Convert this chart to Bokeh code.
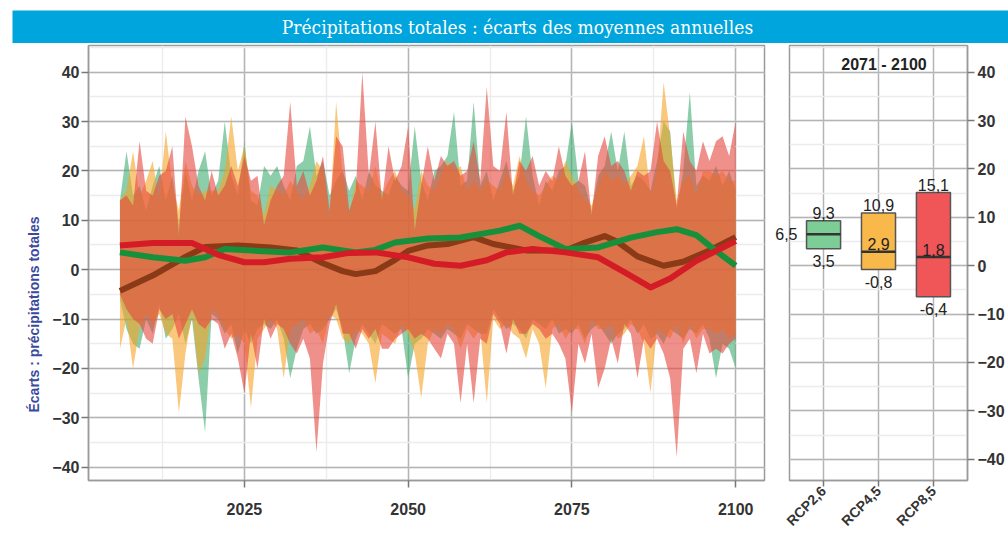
from math import pi
from bokeh.plotting import figure
from bokeh.models import SingleIntervalTicker, FixedTicker, Spacer, Title, LinearAxis
from bokeh.layouts import column, row
from bokeh.embed import file_html
from bokeh.resources import INLINE
from bokeh.core.properties import value

# ---------------- data ----------------
years = list(range(2006, 2101))

rcp26_upper = [14, 24, 15, 17, 12, 17, 21, 14, 19, 9,
               20, 14, 20, 24, 15, 18, 30, 19, 15, 26,
               14, 13, 21, 19, 21, 17, 14, 21, 22, 29,
               19, 22, 15, 18, 20, 16, 19, 14, 20, 17,
               16, 15, 19, 17, 16, 29, 18, 14, 20, 21,
               23, 32, 17, 18, 34, 17, 20, 14, 18, 22,
               16, 19, 31, 19, 13, 18, 16, 20, 21, 30,
               18, 17, 12, 19, 21, 28, 20, 28, 17, 19,
               18, 16, 22, 30, 28, 12, 20, 36, 17, 19,
               18, 21, 17, 20, 16]
rcp26_lower = [-6, -12, -15, -16, -10, -13, -7, -14, -12, -9,
               -15, -10, -22, -33, -9, -10, -13, -11, -17, -12,
               -15, -12, -11, -12, -10, -14, -22, -16, -12, -11,
               -13, -12, -10, -8, -12, -21, -14, -11, -13, -15,
               -11, -12, -13, -12, -22, -15, -14, -12, -13, -14,
               -12, -13, -14, -11, -12, -13, -13, -8, -10, -12,
               -11, -12, -14, -10, -11, -12, -10, -13, -12, -13,
               -11, -14, -12, -11, -13, -15, -13, -12, -10, -13,
               -11, -14, -13, -15, -12, -13, -14, -12, -13, -11,
               -14, -22, -15, -16, -20]
rcp45_upper = [14, 16, 24, 15, 18, 22, 14, 28, 17, 12,
               22, 17, 15, 16, 16, 16, 20, 31, 20, 25,
               16, 15, 11, 17, 16, 15, 18, 16, 14, 17,
               22, 20, 10, 34, 19, 11, 18, 17, 16, 21,
               15, 18, 20, 16, 15, 12, 20, 17, 16, 19,
               22, 20, 21, 16, 18, 16, 18, 17, 16, 20,
               17, 23, 18, 16, 15, 17, 19, 18, 22, 19,
               16, 14, 13, 17, 20, 18, 19, 17, 19, 21,
               27, 15, 20, 38, 27, 14, 18, 19, 15, 20,
               20, 19, 20, 18, 18]
rcp45_lower = [-16, -10, -20, -12, -9, -11, -9, -13, -14, -29,
               -17, -9, -21, -18, -8, -9, -12, -14, -13, -15,
               -28, -14, -12, -10, -12, -22, -12, -11, -10, -13,
               -12, -15, -9, -10, -14, -15, -12, -13, -15, -23,
               -13, -14, -15, -11, -13, -17, -26, -15, -12, -13,
               -11, -12, -16, -12, -14, -12, -27, -10, -12, -11,
               -13, -14, -18, -12, -15, -24, -12, -11, -14, -12,
               -12, -15, -10, -12, -12, -11, -14, -13, -11, -12,
               -15, -25, -12, -13, -14, -11, -15, -11, -14, -12,
               -12, -13, -12, -14, -13]
rcp85_upper = [14, 15, 13, 26, 16, 15, 19, 20, 25, 7,
               31, 25, 17, 14, 20, 15, 17, 21, 17, 23,
               18, 19, 9, 14, 17, 19, 34, 17, 20, 15,
               18, 23, 12, 27, 25, 12, 16, 40, 19, 30,
               14, 25, 18, 21, 29, 8, 17, 25, 18, 23,
               21, 22, 19, 20, 26, 18, 37, 21, 20, 32,
               15, 22, 20, 23, 17, 20, 18, 25, 19, 17,
               18, 24, 11, 23, 27, 21, 22, 20, 16, 20,
               19, 20, 30, 22, 20, 13, 28, 22, 20, 26,
               22, 26, 27, 23, 30]
rcp85_lower = [-5, -8, -10, -11, -14, -15, -8, -10, -9, -14,
               -11, -8, -11, -12, -10, -11, -16, -13, -18, -25,
               -13, -20, -10, -14, -11, -12, -15, -17, -14, -18,
               -37, -19, -11, -7, -13, -13, -16, -12, -14, -12,
               -16, -16, -14, -13, -12, -14, -13, -14, -16, -18,
               -13, -15, -27, -15, -27, -14, -15, -9, -11, -17,
               -10, -13, -13, -11, -12, -14, -13, -15, -18, -29,
               -15, -19, -13, -24, -20, -14, -19, -11, -13, -22,
               -14, -16, -14, -17, -22, -38, -16, -14, -21, -13,
               -17, -16, -17, -15, -14]

# smoothed means
rcp26_mean_years = [2006, 2011, 2016, 2019, 2022, 2027, 2032, 2037, 2042, 2045, 2048,
                    2053, 2058, 2064, 2067, 2070, 2074, 2079, 2084, 2088, 2091, 2094, 2097, 2100]
rcp26_mean = [3.5, 2.5, 1.8, 2.5, 4.2, 3.8, 3.5, 4.5, 3.5, 4.0, 5.5,
              6.3, 6.5, 7.9, 8.9, 6.8, 4.2, 4.5, 6.5, 7.6, 8.2, 7.0, 3.8, 0.8]
rcp45_mean_years = [2006, 2011, 2016, 2019, 2024, 2029, 2033, 2037, 2040, 2042, 2045, 2048,
                    2050, 2053, 2056, 2060, 2063, 2068, 2074, 2077, 2080, 2082, 2085, 2089,
                    2092, 2096, 2100]
rcp45_mean = [-4.3, -1.2, 2.6, 4.6, 4.9, 4.5, 3.9, 1.3, -0.3, -0.9, -0.3, 2.0,
              3.8, 4.9, 5.2, 6.6, 5.2, 3.9, 3.9, 5.5, 6.8, 5.6, 2.7, 0.8,
              1.6, 3.9, 6.6]
rcp85_mean_years = [2006, 2011, 2017, 2021, 2025, 2028, 2032, 2037, 2041, 2045, 2050,
                    2054, 2058, 2062, 2065, 2069, 2074, 2079, 2083, 2087, 2090, 2094, 2100]
rcp85_mean = [4.9, 5.4, 5.4, 3.0, 1.5, 1.5, 2.2, 2.5, 3.4, 3.5, 2.5,
              1.2, 0.8, 1.9, 3.5, 4.2, 3.5, 2.5, -0.5, -3.6, -1.8, 1.8, 5.8]

# 2071-2100 box summary
scenarios = ["RCP2,6", "RCP4,5", "RCP8,5"]
box_low = [3.5, -0.8, -6.4]
box_median = [6.5, 2.9, 1.8]
box_high = [9.3, 10.9, 15.1]

title_text = "Précipitations totales : écarts des moyennes annuelles"
ylabel_text = "Écarts : précipitations totales"
period_text = "2071 - 2100"

# ---------------- styles ----------------
SANS = "Liberation Sans"
TICK_COL = "#333333"
GRID_MAJ = "#b4b4b4"
GRID_MIN = "#ececec"
FRAME_COL = "#9a9a9a"

fill_cols = ["#3fac71", "#f7a326", "#e6463c"]
box_cols = ["#7dcd96", "#f9b84a", "#f05558"]
line_cols = {"g": "#17903c", "b": "#8a3a16", "r": "#d41c26"}


def fmt(v):
    return ("%.1f" % v).replace(".", ",")


def style_axes(p):
    for ax in p.axis:
        ax.axis_line_color = FRAME_COL
        ax.axis_line_width = 1.5
        ax.major_tick_line_color = "#777777"
        ax.major_tick_line_width = 1.5
        ax.major_tick_out = 7
        ax.major_tick_in = 0
        ax.minor_tick_line_color = None
        ax.major_label_text_font = SANS
        ax.major_label_text_font_style = "bold"
        ax.major_label_text_font_size = "16px"
        ax.major_label_text_color = TICK_COL
    p.grid.grid_line_color = GRID_MAJ
    p.grid.grid_line_width = 1.5
    p.grid.minor_grid_line_color = GRID_MIN
    p.grid.minor_grid_line_width = 1.5
    p.outline_line_color = FRAME_COL
    p.outline_line_width = 1.5


# ---------------- title bar ----------------
tf = figure(width=996, height=33, x_range=(0, 996), y_range=(0, 33),
            toolbar_location=None, output_backend="svg", min_border=0,
            x_axis_type=None, y_axis_type=None,
            background_fill_color="#00a5dd", border_fill_color="#00a5dd",
            outline_line_color=None)
tf.grid.visible = False
tf.text(x=[505], y=[16.5], text=[title_text], text_align="center",
        text_baseline="middle", text_color="white",
        text_font=value("DejaVu Serif Condensed"), text_font_size="19px")

# ---------------- main panel ----------------
p = figure(width=772, height=495, x_range=(2001.2, 2104.4), y_range=(-42.7, 45.4),
           toolbar_location=None, output_backend="svg",
           min_border_left=88, min_border_right=8, min_border_top=2, min_border_bottom=58,
           background_fill_color="white")
p.xaxis.ticker = SingleIntervalTicker(interval=25, num_minor_ticks=2)
p.yaxis.ticker = SingleIntervalTicker(interval=10, num_minor_ticks=2)
style_axes(p)
p.xaxis.major_label_standoff = 15
p.yaxis.major_label_standoff = 2

for lo, up, c in [(rcp26_lower, rcp26_upper, fill_cols[0]),
                  (rcp45_lower, rcp45_upper, fill_cols[1]),
                  (rcp85_lower, rcp85_upper, fill_cols[2])]:
    p.varea(x=years, y1=lo, y2=up, fill_color=c, fill_alpha=0.6)

p.line(rcp45_mean_years, rcp45_mean, line_color=line_cols["b"], line_width=6, line_join="round")
p.line(rcp26_mean_years, rcp26_mean, line_color=line_cols["g"], line_width=6, line_join="round")
p.line(rcp85_mean_years, rcp85_mean, line_color=line_cols["r"], line_width=6, line_join="round")

p.add_layout(Title(text=ylabel_text, align="left", offset=68, standoff=16,
                   text_color="#3b4a9c", text_font=SANS, text_font_style="bold",
                   text_font_size="14px"), "left")

# ---------------- box panel ----------------
cats = [1, 2, 3]
q = figure(width=236, height=495, x_range=(0.38, 3.62), y_range=(-44.4, 45.5),
           toolbar_location=None, output_backend="svg", y_axis_location="right",
           min_border_left=14, min_border_right=41, min_border_top=2, min_border_bottom=58,
           background_fill_color="white")
q.xaxis.ticker = FixedTicker(ticks=cats)
q.xaxis.major_label_overrides = {c: s for c, s in zip(cats, scenarios)}
q.yaxis.ticker = SingleIntervalTicker(interval=10, num_minor_ticks=2)
style_axes(q)
q.xaxis.major_label_orientation = pi / 4
q.xaxis.major_label_text_font_size = "14px"
q.xaxis.major_tick_out = 6
q.xaxis.major_label_standoff = 2
q.yaxis.major_label_standoff = 3
q.xgrid.ticker = FixedTicker(ticks=cats)

# left-side label for the RCP2.6 median (drawn as an axis label so it may overhang the frame)
med_axis = LinearAxis(ticker=FixedTicker(ticks=[box_median[0]]),
                      major_label_overrides={box_median[0]: fmt(box_median[0])},
                      axis_line_color=None, major_tick_line_color=None,
                      minor_tick_line_color=None, major_tick_out=0, major_tick_in=0,
                      major_label_standoff=-8, major_label_text_font=SANS,
                      major_label_text_font_size="16px", major_label_text_color="#222222")
q.add_layout(med_axis, "left")

hw = 0.31
q.quad(left=[c - hw for c in cats], right=[c + hw for c in cats],
       bottom=box_low, top=box_high, fill_color=box_cols,
       line_color="#555555", line_width=1.5)
q.segment(x0=[c - hw for c in cats], x1=[c + hw for c in cats],
          y0=box_median, y1=box_median, line_color="#333333", line_width=2.5)

LBL = dict(text_font=value(SANS), text_font_size="16px", text_color="#222222")
q.text(x=cats, y=[v + 0.4 for v in box_high], text=[fmt(v) for v in box_high],
       text_align="center", text_baseline="bottom", **LBL)
q.text(x=cats, y=[v - 1.3 for v in box_low], text=[fmt(v) for v in box_low],
       text_align="center", text_baseline="top", **LBL)
q.text(x=cats[1:], y=[v + 0.3 for v in box_median[1:]], text=[fmt(v) for v in box_median[1:]],
       text_align="center", text_baseline="bottom", **LBL)
q.text(x=[2.1], y=[41.6], text=[period_text], text_align="center", text_baseline="middle",
       text_font=value(SANS), text_font_style="bold", text_font_size="16px",
       text_color="#222222")

layout = column(Spacer(height=10),
                row(Spacer(width=12), tf),
                row(p, q))

open("out.html", "w").write(file_html(layout, INLINE))
